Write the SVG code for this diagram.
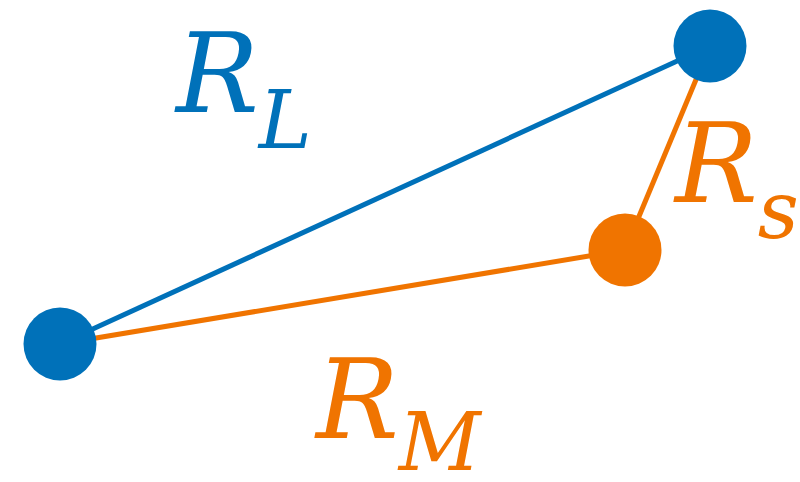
<svg xmlns="http://www.w3.org/2000/svg" width="800" height="482" viewBox="0 0 800 482">
<style>
.blue{fill:#0071B9}
.orange{fill:#F07400}
.lb{stroke:#0071B9;stroke-width:5;fill:none}
.lo{stroke:#F07400;stroke-width:5;fill:none}
.t{font-family:"DejaVu Serif","Liberation Serif",serif;font-style:italic;font-size:110px}
.sub{font-size:80px}
</style>
<rect width="800" height="482" fill="#ffffff"/>
<g id="connectors">
<line class="lb" x1="60" y1="344" x2="710" y2="46"/>
<line class="lo" x1="60" y1="344" x2="625" y2="250"/>
<line class="lo" x1="625" y1="250" x2="710" y2="46"/>
</g>
<g id="node-left"><circle class="blue" cx="60" cy="344" r="36.5"/></g>
<g id="node-top"><circle class="blue" cx="710" cy="46" r="36.5"/></g>
<g id="node-mid"><circle class="orange" cx="625" cy="250" r="36.5"/></g>
<g id="label-RL"><text class="t blue" x="176" y="112">R<tspan class="sub" dy="36">L</tspan></text></g>
<g id="label-RS"><text class="t orange" x="675" y="202">R<tspan class="sub" dy="36">s</tspan></text></g>
<g id="label-RM"><text class="t orange" x="316" y="438">R<tspan class="sub" dy="32">M</tspan></text></g>
</svg>
